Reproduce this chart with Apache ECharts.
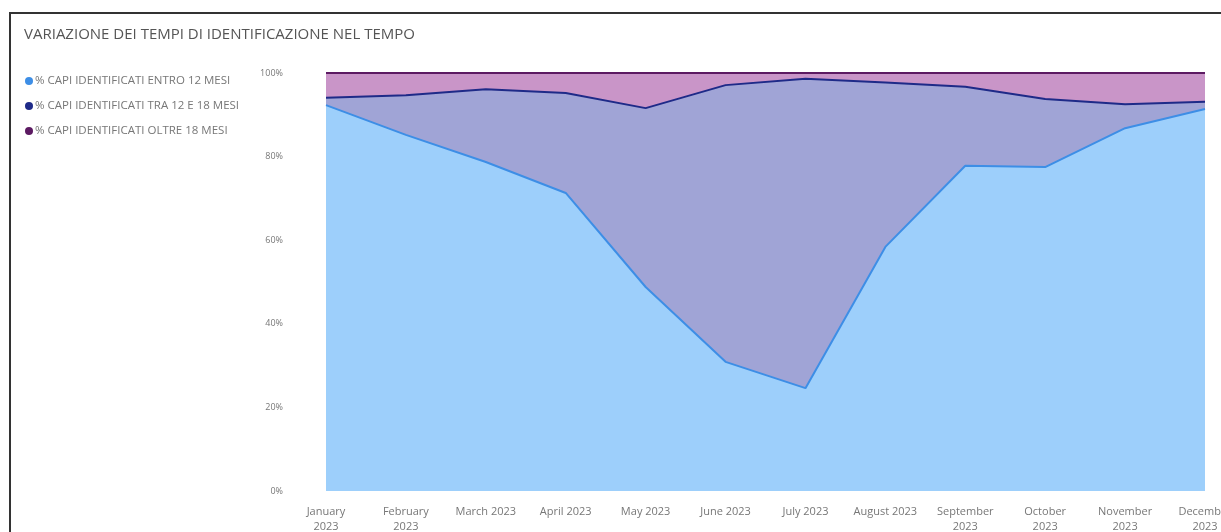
<!DOCTYPE html>
<html>
<head>
<meta charset="utf-8">
<script src="https://cdn.jsdelivr.net/npm/echarts@6/dist/echarts.min.js"></script>
<style>
  html, body { margin: 0; padding: 0; background: #fff; }
  #chart { width: 1221px; height: 532px; }
</style>
</head>
<body>
<div id="chart"></div>
<script>
// categorie (mesi) e etichette asse
const months = [
  'January 2023', 'February 2023', 'March 2023', 'April 2023', 'May 2023', 'June 2023',
  'July 2023', 'August 2023', 'September 2023', 'October 2023', 'November 2023', 'December 2023'
]
const monthLabels = [
  'January\n2023', 'February\n2023', 'March 2023', 'April 2023', 'May 2023', 'June 2023',
  'July 2023', 'August 2023', 'September\n2023', 'October\n2023', 'November\n2023', 'December\n2023'
]
const yTicks = ['0%', '20%', '40%', '60%', '80%', '100%']

// valori in percentuale (100% stacked)
const entro12 = [92.3, 85.2, 78.7, 71.3, 48.8, 30.9, 24.6, 58.4, 77.8, 77.5, 86.8, 91.4]
const tra12e18 = [1.8, 9.5, 17.4, 23.9, 42.8, 66.2, 74.0, 39.3, 18.9, 16.3, 5.7, 1.7]
const oltre18 = [5.9, 5.3, 3.9, 4.8, 8.4, 2.9, 1.4, 2.3, 3.3, 6.2, 7.5, 6.9]

const seriesNames = [
  '% CAPI IDENTIFICATI ENTRO 12 MESI',
  '% CAPI IDENTIFICATI TRA 12 E 18 MESI',
  '% CAPI IDENTIFICATI OLTRE 18 MESI'
]

const chart = echarts.init(document.getElementById('chart'))

const makeSeries = (name, data, line, area, z) => ({
  name,
  type: 'line',
  stack: 'total',
  data,
  z,
  showSymbol: false,
  symbol: 'none',
  itemStyle: { color: line },
  lineStyle: { color: line, width: 2 },
  areaStyle: { color: area, opacity: 1 },
  emphasis: { disabled: true }
})

const option = {
  animation: false,
  textStyle: { fontFamily: 'Open Sans' },
  title: {
    text: 'VARIAZIONE DEI TEMPI DI IDENTIFICAZIONE NEL TEMPO',
    left: 19,
    top: 22,
    textStyle: { fontSize: 15, fontWeight: 'normal', color: '#555', fontFamily: 'Open Sans' }
  },
  legend: {
    orient: 'vertical',
    left: 20,
    top: 69,
    icon: 'circle',
    itemWidth: 8,
    itemHeight: 8,
    itemGap: 11,
    data: seriesNames,
    textStyle: { fontSize: 11.5, color: '#777', lineHeight: 14, padding: [0, 0, 0, -3] }
  },
  grid: { left: 326, right: 16, top: 73, bottom: 41, outerBoundsMode: 'none', containLabel: false },
  xAxis: {
    type: 'category',
    data: months,
    boundaryGap: false,
    axisLine: { show: false },
    axisTick: { show: false },
    axisLabel: {
      color: '#777',
      fontSize: 11,
      lineHeight: 15,
      margin: 13,
      interval: 0,
      hideOverlap: false,
      formatter: (v, i) => monthLabels[i]
    }
  },
  yAxis: {
    type: 'value',
    min: 0,
    max: 100,
    interval: 20,
    splitLine: { show: false },
    axisLine: { show: false },
    axisTick: { show: false },
    axisLabel: {
      color: '#777',
      fontSize: 9,
      margin: 43,
      formatter: v => yTicks[Math.round(v / 20)]
    }
  },
  graphic: [{
    type: 'rect',
    shape: { x: 10, y: 13, width: 1400, height: 700 },
    style: { fill: 'none', stroke: '#333', lineWidth: 2 },
    silent: true
  }],
  series: [
    makeSeries(seriesNames[0], entro12, '#3d8ee6', '#9dcffb', 4),
    makeSeries(seriesNames[1], tra12e18, '#1e2a88', '#a0a4d6', 3),
    makeSeries(seriesNames[2], oltre18, '#5c1a62', '#c995c8', 2)
  ]
}

chart.setOption(option)
</script>
</body>
</html>
